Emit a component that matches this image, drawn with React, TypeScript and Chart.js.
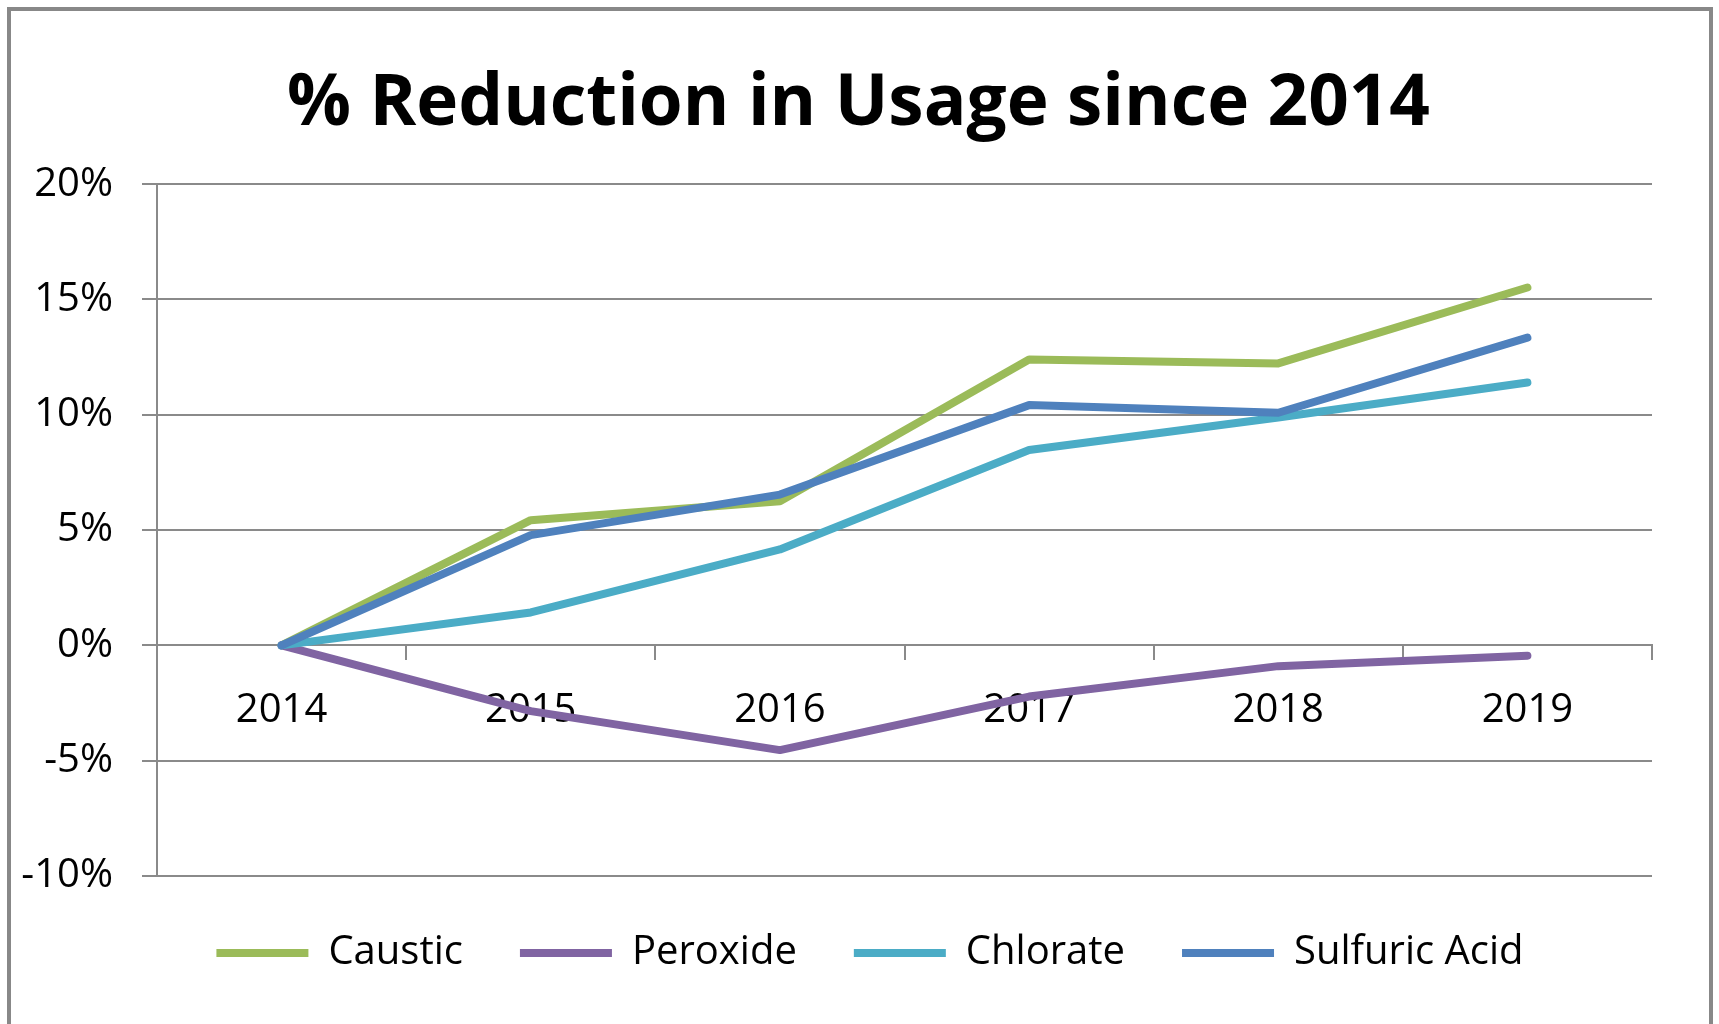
import React, { useEffect, useRef } from "react";
import { Chart, registerables } from "chart.js";

Chart.register(...registerables);

const years = ["2014", "2015", "2016", "2017", "2018", "2019"];
const caustic = [0, 5.43, 6.25, 12.4, 12.23, 15.52];
const peroxide = [0, -2.85, -4.54, -2.22, -0.9, -0.45];
const chlorate = [0, 1.43, 4.16, 8.47, 9.88, 11.4];
const sulfuric = [0, 4.78, 6.54, 10.42, 10.09, 13.35];
const seriesNames = ["Caustic", "Peroxide", "Chlorate", "Sulfuric Acid"];
const seriesColors = ["#9BBB59", "#8064A2", "#4BACC6", "#4F81BD"];
const yMin = -10;
const yMax = 20;
const yStep = 5;
const titleText = "% Reduction in Usage since 2014";

const FONT = "'Open Sans', 'DejaVu Sans', sans-serif";
const GRID = "#8a8a8a";

const shiftBoxes = {
  id: "shiftBoxes",
  afterLayout(chart: any) {
    const lg = chart.legend;
    if (lg) {
      lg.left += 38.5;
      lg.right += 38.5;
    }
    const t = chart.titleBlock;
    if (t) {
      t.left += 27;
      t.right += 27;
    }
  },
};

export default function App() {
  const canvasRef = useRef<HTMLCanvasElement | null>(null);

  useEffect(() => {
    if (!canvasRef.current) return;
    const values = [caustic, peroxide, chlorate, sulfuric];
    const chart = new Chart(canvasRef.current, {
      type: "line",
      data: {
        labels: years,
        datasets: values.map((d, i) => ({
          label: seriesNames[i],
          data: d,
          borderColor: seriesColors[i],
          backgroundColor: seriesColors[i],
          borderWidth: 8,
          borderCapStyle: "round" as const,
          borderJoinStyle: "round" as const,
          pointRadius: 0,
          pointHoverRadius: 0,
          tension: 0,
          order: 4 - i,
        })),
      },
      plugins: [shiftBoxes],
      options: {
        animation: false,
        responsive: true,
        maintainAspectRatio: false,
        layout: { padding: { left: 0, right: 57, top: 0, bottom: 0 } },
        plugins: {
          tooltip: { enabled: false },
          title: {
            display: true,
            text: titleText,
            color: "#000",
            font: { family: FONT, size: 71, weight: "bold", lineHeight: 1.2 },
            padding: { top: 51, bottom: 37 },
          },
          legend: {
            display: true,
            position: "bottom",
            labels: {
              color: "#000",
              font: { family: FONT, size: 40 },
              usePointStyle: true,
              pointStyle: "line",
              pointStyleWidth: 92,
              padding: 57,
              sort: (a: any, b: any) => a.datasetIndex - b.datasetIndex,
            },
          },
        },
        scales: {
          x: {
            type: "category",
            position: { y: 0 } as any,
            offset: true,
            grid: {
              display: true,
              drawOnChartArea: false,
              drawTicks: true,
              tickLength: 14,
              color: GRID,
              lineWidth: 2,
              offset: true,
            },
            border: { display: true, color: GRID, width: 2 },
            ticks: {
              color: "#000",
              font: { family: FONT, size: 40 },
              padding: 27,
              maxRotation: 0,
              autoSkip: false,
            },
          },
          y: {
            type: "linear",
            position: "left",
            min: yMin,
            max: yMax,
            grid: {
              color: GRID,
              lineWidth: 2,
              drawTicks: true,
              tickLength: 15,
            },
            border: { display: true, color: GRID, width: 2 },
            ticks: {
              stepSize: yStep,
              color: "#000",
              font: { family: FONT, size: 40 },
              padding: 29,
              callback: (v: any) => `${v}%`,
            },
            afterFit: (scale: any) => {
              scale.width = 146;
            },
          },
        },
      },
    });
    return () => chart.destroy();
  }, []);

  return (
    <div
      style={{
        position: "fixed",
        inset: 0,
        overflow: "hidden",
        background: "#fff",
      }}
    >
      <div
        style={{
          position: "absolute",
          left: 7,
          top: 7,
          width: 1706,
          height: 1100,
          border: `4px solid #888`,
          boxSizing: "border-box",
          background: "#fff",
        }}
      >
        <div style={{ position: "absolute", left: 0, top: 0, width: 1698, height: 972 }}>
          <canvas ref={canvasRef} />
        </div>
      </div>
    </div>
  );
}
